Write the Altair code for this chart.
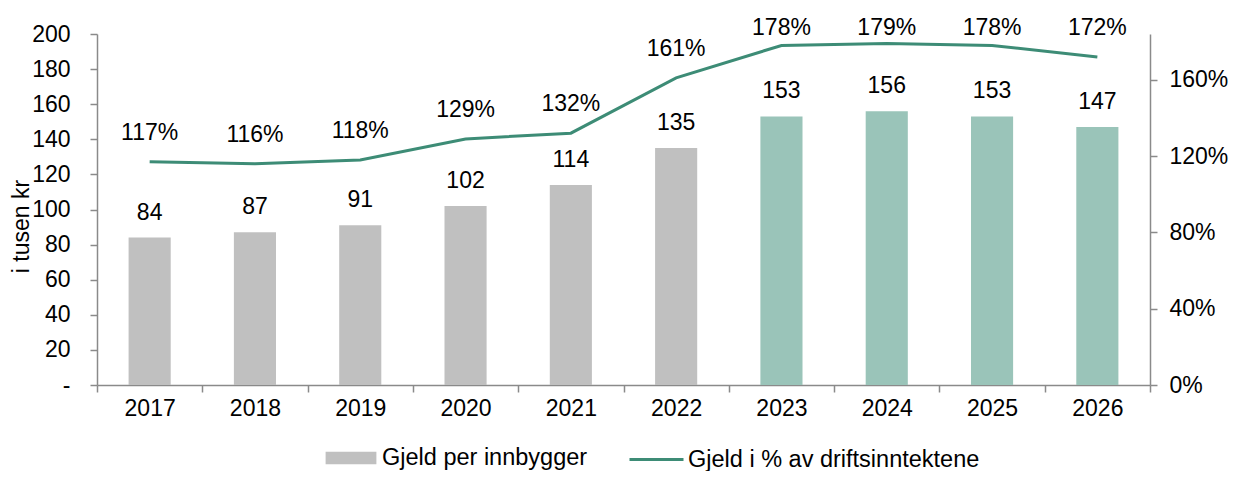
import altair as alt
import pandas as pd

years = ["2017", "2018", "2019", "2020", "2021", "2022", "2023", "2024", "2025", "2026"]
gjeld_per_innbygger = [84, 87, 91, 102, 114, 135, 153, 156, 153, 147]
gjeld_pct = [1.17, 1.16, 1.18, 1.29, 1.32, 1.61, 1.78, 1.79, 1.78, 1.72]
bar_type = ["Gjeld per innbygger"] * 6 + ["Prognose"] * 4

BAR_NAME = "Gjeld per innbygger"
LINE_NAME = "Gjeld i % av driftsinntektene"

df = pd.DataFrame({
    "year": years,
    "val": gjeld_per_innbygger,
    "pct": gjeld_pct,
    "type": bar_type,
    "line": [LINE_NAME] * len(years),
})

FONT = "Liberation Sans"
FS = 23
LFS = 23.5
AX = "#8a8a8a"

x = alt.X("year:N", title=None, sort=years,
          scale=alt.Scale(paddingInner=0, paddingOuter=0),
          axis=alt.Axis(labelAngle=0, tickBand="extent", domainColor=AX, tickColor=AX,
                        tickSize=7, labelPadding=5, labelFontSize=FS, labelFont=FONT,
                        labelColor="#000", domainWidth=1.5, tickWidth=1.5))

y_left = alt.Y("val:Q", title="i tusen kr",
               scale=alt.Scale(domain=[0, 200], nice=False),
               axis=alt.Axis(values=list(range(0, 201, 20)), grid=False,
                             labelExpr="datum.value == 0 ? '-' : datum.label",
                             domainColor=AX, tickColor=AX, tickSize=7, labelPadding=20,
                             labelFontSize=FS, labelFont=FONT, labelColor="#000",
                             titleFontSize=FS, titleFont=FONT, titleFontWeight="normal",
                             titleColor="#000", titleX=-76, titleY=192, titleAngle=-90,
                             titleAlign="center", titleBaseline="middle",
                             domainWidth=1.5, tickWidth=1.5))

right_scale = alt.Scale(domain=[0, 1.84], nice=False)
right_axis = alt.Axis(orient="right", values=[0, 0.4, 0.8, 1.2, 1.6], format=".0%", grid=False,
                      domainColor=AX, tickColor=AX, tickSize=7, labelPadding=12,
                      labelFontSize=FS, labelFont=FONT, labelColor="#000",
                      domainWidth=1.5, tickWidth=1.5)

bars = alt.Chart(df).mark_bar(width=alt.RelativeBandSize(0.4)).encode(
    x=x,
    y=y_left,
    color=alt.Color("type:N",
                    scale=alt.Scale(domain=[BAR_NAME, "Prognose"], range=["#c0c0c0", "#9ac4b9"]),
                    legend=alt.Legend(title=None, orient="none", legendX=241, legendY=411,
                                      values=[BAR_NAME], symbolType="M-2,-0.5H2V0.5H-2Z",
                                      symbolSize=645, symbolStrokeWidth=0, labelOffset=18,
                                      labelFontSize=LFS, labelFont=FONT, labelColor="#000",
                                      labelLimit=0, padding=0)),
)

bar_text = alt.Chart(df).mark_text(baseline="alphabetic", dy=-18, fontSize=FS, font=FONT, color="#000").encode(
    x=x,
    y=y_left,
    text=alt.Text("val:Q"),
)

line = alt.Chart(df).mark_line(strokeWidth=3).encode(
    x=x,
    y=alt.Y("pct:Q", title=None, scale=right_scale, axis=right_axis),
    stroke=alt.Stroke("line:N", scale=alt.Scale(domain=[LINE_NAME], range=["#3d8c76"]),
                      legend=alt.Legend(title=None, orient="none", legendX=531, legendY=397,
                                        symbolType="stroke", symbolSize=2916, symbolStrokeWidth=3,
                                        labelOffset=3, labelFontSize=LFS, labelFont=FONT,
                                        labelColor="#000", labelLimit=0, padding=0)),
)

line_text = alt.Chart(df).transform_calculate(
    label_y="min(datum.pct, 1.72)"
).mark_text(baseline="alphabetic", dy=-22, fontSize=FS, font=FONT, color="#000").encode(
    x=x,
    y=alt.Y("label_y:Q", title=None, scale=right_scale, axis=right_axis),
    text=alt.Text("pct:Q", format=".0%"),
)

left = alt.layer(bars, bar_text)
right = alt.layer(line, line_text)

chart = alt.layer(left, right).resolve_scale(y="independent").properties(
    width=1053, height=351,
    autosize=alt.AutoSizeParams(type="none"),
    padding={"left": 89, "top": 26, "right": 79, "bottom": 86},
).configure(font=FONT).configure_view(stroke=None)

chart.save("out.html", embed_options={"renderer": "svg", "actions": False})
